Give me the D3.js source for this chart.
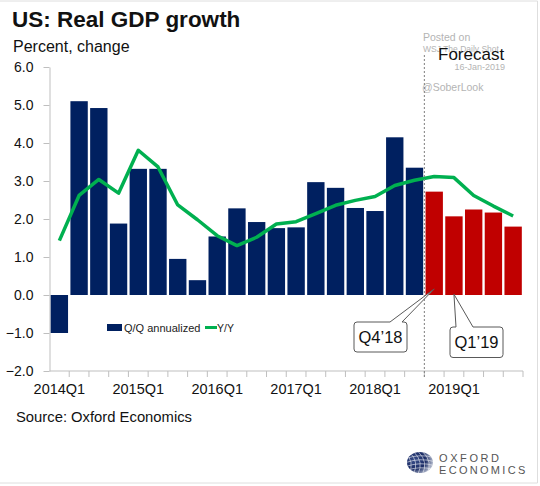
<!DOCTYPE html>
<html>
<head>
<meta charset="utf-8">
<script src="https://cdn.jsdelivr.net/npm/d3@7"></script>
<style>
    html, body { margin: 0; padding: 0; background: #fff; }
    svg { display: block; font-family: "Liberation Sans", Arial, sans-serif; }
</style>
</head>
<body>
<svg id="chart" width="540" height="486"></svg>
<script>
// Quarters 2014Q1 .. 2019Q4
const quarters = [];
for (let yr = 2014; yr <= 2019; yr++) {
    for (let q = 1; q <= 4; q++) quarters.push(yr + 'Q' + q);
}
// Q/Q annualized (bars)
const qqValues = [-1.0, 5.1, 4.92, 1.88, 3.32, 3.32, 0.95, 0.39, 1.54, 2.28, 1.92, 1.76,
                  1.78, 2.97, 2.82, 2.29, 2.21, 4.15, 3.35, 2.72, 2.07, 2.25, 2.17, 1.80];
// Y/Y (line)
const yyValues = [1.43, 2.62, 3.04, 2.68, 3.81, 3.37, 2.37, 1.98, 1.56, 1.30, 1.52, 1.87,
                  1.93, 2.14, 2.36, 2.49, 2.59, 2.88, 3.02, 3.12, 3.09, 2.62, 2.34, 2.08];
const firstForecast = '2018Q4';
const yTicks = [-2, -1, 0, 1, 2, 3, 4, 5, 6];

const svg = d3.select('#chart');
const margin = { top: 67, right: 17, bottom: 115, left: 49.5 };
const width = +svg.attr('width') - margin.left - margin.right;
const height = +svg.attr('height') - margin.top - margin.bottom;

const navy = '#002060';
const red = '#c00000';
const green = '#00b050';
const axisGrey = '#bfbfbf';

const xScale = d3.scaleBand()
    .domain(quarters)
    .range([margin.left, margin.left + width])
    .paddingInner(0.12)
    .paddingOuter(0.06);

const yScale = d3.scaleLinear()
    .domain([-2, 6])
    .range([margin.top + height, margin.top]);

// boundary between categories (left edge of a step)
const edge = c => xScale(c) - xScale.step() * xScale.paddingInner() / 2;
const forecastIdx = quarters.indexOf(firstForecast);

// Outer frame (light grey)
svg.append('path')
    .attr('d', 'M0,1 H537.5 V483 H0')
    .attr('fill', 'none')
    .attr('stroke', '#dedede')
    .attr('stroke-width', 1);

// Titles
svg.append('text')
    .attr('x', 12).attr('y', 27)
    .attr('font-size', 22.5).attr('font-weight', 'bold')
    .attr('fill', '#111')
    .text('US: Real GDP growth');

svg.append('text')
    .attr('x', 13).attr('y', 52)
    .attr('font-size', 16)
    .attr('fill', '#111')
    .text('Percent, change');

// Watermark
const wm = svg.append('g').attr('fill', '#b4b4b4');
wm.append('text').attr('x', 423).attr('y', 40.5).attr('font-size', 10.5).text('Posted on');
wm.append('text').attr('x', 423).attr('y', 52).attr('font-size', 8.5).text('WSJ The Daily Shot');
wm.append('text').attr('x', 505).attr('y', 69.5).attr('font-size', 9)
    .attr('text-anchor', 'end').text('16-Jan-2019');
wm.append('text').attr('x', 422).attr('y', 91).attr('font-size', 10.5).text('@SoberLook');

// Y axis
const yAxis = d3.axisLeft(yScale)
    .tickValues(yTicks)
    .tickFormat(d3.format('.1f'))
    .tickSizeInner(6)
    .tickSizeOuter(0)
    .tickPadding(10);

const gy = svg.append('g')
    .attr('transform', `translate(${margin.left},0)`)
    .call(yAxis);
gy.select('.domain').attr('stroke', axisGrey);
gy.selectAll('.tick line').attr('stroke', axisGrey);
gy.selectAll('.tick text')
    .attr('font-size', 14)
    .attr('fill', '#111')
    .attr('font-family', '"Liberation Sans", Arial, sans-serif');

// X axis line and boundary ticks
const axisY = yScale(-2);
svg.append('line')
    .attr('x1', margin.left).attr('x2', margin.left + width)
    .attr('y1', axisY).attr('y2', axisY)
    .attr('stroke', axisGrey);

svg.selectAll('line.xtick')
    .data(quarters.slice(1).map(edge).concat([margin.left + width]))
    .join('line')
    .attr('class', 'xtick')
    .attr('x1', d => d).attr('x2', d => d)
    .attr('y1', axisY).attr('y2', axisY + 6)
    .attr('stroke', axisGrey);

const xAxis = d3.axisBottom(xScale)
    .tickValues(quarters.filter(q => q.endsWith('Q1')))
    .tickSize(0)
    .tickPadding(13);

const gx = svg.append('g')
    .attr('transform', `translate(0,${axisY})`)
    .call(xAxis);
gx.select('.domain').remove();
gx.selectAll('.tick text')
    .attr('font-size', 14.5)
    .attr('fill', '#111')
    .attr('font-family', '"Liberation Sans", Arial, sans-serif');

// Bars
svg.selectAll('rect.bar')
    .data(quarters.map((q, i) => ({ q, v: qqValues[i], i })))
    .join('rect')
    .attr('class', 'bar')
    .attr('x', d => xScale(d.q))
    .attr('width', xScale.bandwidth())
    .attr('y', d => yScale(Math.max(0, d.v)))
    .attr('height', d => Math.abs(yScale(d.v) - yScale(0)))
    .attr('fill', d => d.i >= forecastIdx ? red : navy);

// Y/Y line
const line = d3.line()
    .x((d, i) => xScale(quarters[i]) + xScale.bandwidth() / 2)
    .y(d => yScale(d));

svg.append('path')
    .datum(yyValues)
    .attr('fill', 'none')
    .attr('stroke', green)
    .attr('stroke-width', 3.5)
    .attr('stroke-linejoin', 'round')
    .attr('d', line);

// Forecast divider
const fx = edge(firstForecast);
svg.append('line')
    .attr('x1', fx).attr('x2', fx)
    .attr('y1', 55).attr('y2', axisY + 6)
    .attr('stroke', '#7f7f7f')
    .attr('stroke-width', 1)
    .attr('stroke-dasharray', '2,2');

svg.append('text')
    .attr('x', 438).attr('y', 60)
    .attr('font-size', 17)
    .attr('fill', '#111')
    .text('Forecast');

// Legend
const legend = svg.append('g').attr('transform', 'translate(107,324)');
legend.append('rect').attr('width', 15).attr('height', 7).attr('fill', navy);
legend.append('text').attr('x', 17).attr('y', 7.5).attr('font-size', 11)
    .attr('fill', '#222').text('Q/Q annualized');
legend.append('line').attr('x1', 98).attr('x2', 110).attr('y1', 3.5).attr('y2', 3.5)
    .attr('stroke', green).attr('stroke-width', 3);
legend.append('text').attr('x', 110).attr('y', 7.5).attr('font-size', 10.5)
    .attr('fill', '#222').text('Y/Y');

// Callouts
function callout(box, base, tip, label) {
    const r = 3;
    const { x, y, w, h } = box;
    const d = [
        `M${x + r},${y}`,
        `H${base[0]}`, `L${tip[0]},${tip[1]}`, `L${base[1]},${y}`,
        `H${x + w - r}`, `A${r},${r} 0 0 1 ${x + w},${y + r}`,
        `V${y + h - r}`, `A${r},${r} 0 0 1 ${x + w - r},${y + h}`,
        `H${x + r}`, `A${r},${r} 0 0 1 ${x},${y + h - r}`,
        `V${y + r}`, `A${r},${r} 0 0 1 ${x + r},${y}`, 'Z'
    ].join(' ');
    svg.append('path')
        .attr('d', d)
        .attr('fill', '#fff')
        .attr('stroke', '#595959')
        .attr('stroke-width', 1);
    svg.append('text')
        .attr('x', x + w / 2).attr('y', y + h / 2 + 6)
        .attr('text-anchor', 'middle')
        .attr('font-size', 16.5)
        .attr('fill', '#111')
        .text(label);
}

const cx = q => xScale(q) + xScale.bandwidth() / 2;
callout({ x: 354, y: 322, w: 53, h: 30 }, [390, 402], [cx('2018Q4'), yScale(0.16)], 'Q4\u201918');
callout({ x: 450, y: 327, w: 53, h: 30.5 }, [456, 473], [cx('2019Q1'), yScale(0.02)], 'Q1\u201919');

// Source
svg.append('text')
    .attr('x', 16).attr('y', 421.5)
    .attr('font-size', 14.8)
    .attr('fill', '#111')
    .text('Source: Oxford Economics');

// Oxford Economics logo
const defs = svg.append('defs');
const grad = defs.append('radialGradient').attr('id', 'globe')
    .attr('cx', '30%').attr('cy', '40%').attr('r', '75%');
grad.append('stop').attr('offset', '0%').attr('stop-color', '#3a4f8a');
grad.append('stop').attr('offset', '55%').attr('stop-color', '#1c2d66');
grad.append('stop').attr('offset', '100%').attr('stop-color', '#c9cfdc');
defs.append('clipPath').attr('id', 'globeClip')
    .append('ellipse').attr('cx', 420).attr('cy', 462.5).attr('rx', 13).attr('ry', 10.5);

const logo = svg.append('g');
logo.append('ellipse').attr('cx', 420).attr('cy', 462.5).attr('rx', 13).attr('ry', 10.5)
    .attr('fill', 'url(#globe)');
const grid = logo.append('g').attr('clip-path', 'url(#globeClip)')
    .attr('stroke', '#fff').attr('stroke-width', 0.7).attr('fill', 'none').attr('opacity', 0.8);
[-9, -4.5, 0, 4.5, 9].forEach(o => {
    grid.append('path').attr('d', `M${420 + o - 6},${452} Q${420 + o + 4},${462} ${420 + o - 2},${474}`);
});
[-6, -2, 2, 6].forEach(o => {
    grid.append('path').attr('d', `M406,${462.5 + o + 2} Q420,${462.5 + o - 3} 434,${462.5 + o + 1}`);
});

logo.append('text').attr('x', 439).attr('y', 462).attr('font-size', 11)
    .attr('letter-spacing', 2.6).attr('fill', '#555').text('OXFORD');
logo.append('text').attr('x', 439).attr('y', 473.5).attr('font-size', 11)
    .attr('letter-spacing', 2.3).attr('fill', '#555').text('ECONOMICS');
</script>
</body>
</html>
